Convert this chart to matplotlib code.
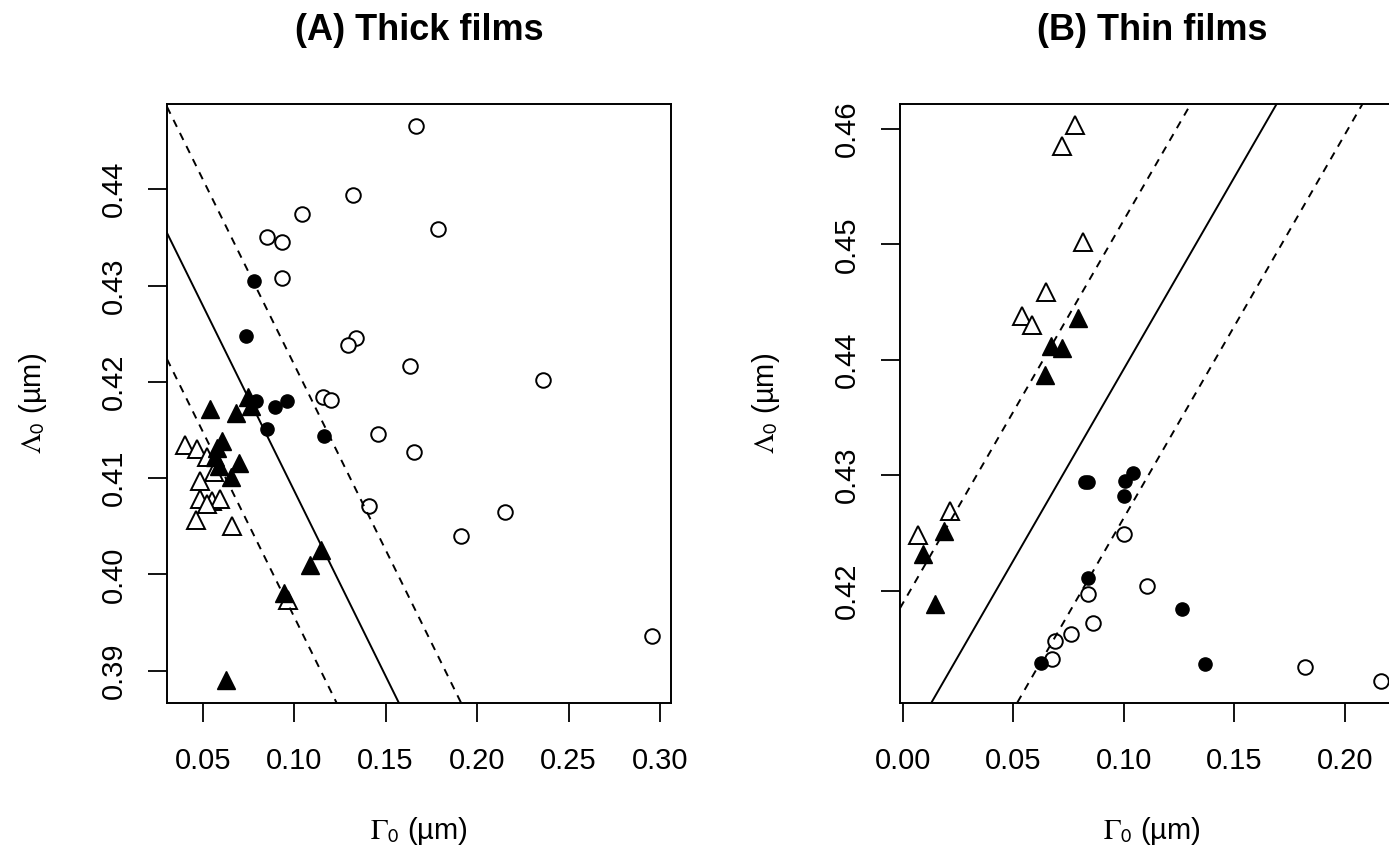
import numpy as np
import matplotlib.pyplot as plt

plt.rcParams['font.family'] = ['Liberation Sans', 'DejaVu Sans']
plt.rcParams['mathtext.fontset'] = 'stix'

# ---- (A) Thick films ----
a_open_circ_x = [0.1665, 0.1322, 0.1043, 0.1786, 0.0849, 0.0933, 0.0933, 0.1337, 0.1294, 0.1634,
                 0.2361, 0.1157, 0.1199, 0.1456, 0.1657, 0.1408, 0.2151, 0.1912, 0.2957]
a_open_circ_y = [0.4466, 0.4394, 0.4374, 0.4359, 0.4350, 0.4345, 0.4308, 0.4246, 0.4238, 0.4216,
                 0.4202, 0.4184, 0.4181, 0.4146, 0.4127, 0.4071, 0.4065, 0.4040, 0.3936]
a_fill_circ_x = [0.0783, 0.0737, 0.0794, 0.0897, 0.0959, 0.0849, 0.1163]
a_fill_circ_y = [0.4305, 0.4248, 0.4180, 0.4174, 0.4180, 0.4151, 0.4144]
a_fill_tri_x = [0.0539, 0.0680, 0.0750, 0.0763, 0.0607, 0.0579, 0.0570, 0.0589, 0.0699, 0.0653,
                0.1148, 0.1089, 0.0943, 0.0625]
a_fill_tri_y = [0.4172, 0.4168, 0.4184, 0.4175, 0.4139, 0.4131, 0.4122, 0.4113, 0.4116, 0.4101,
                0.4025, 0.4010, 0.3981, 0.3890]
a_open_tri_x = [0.0405, 0.0469, 0.0524, 0.0561, 0.0488, 0.0488, 0.0552, 0.0592, 0.0524, 0.0466,
                0.0658, 0.0965]
a_open_tri_y = [0.4134, 0.4130, 0.4122, 0.4106, 0.4097, 0.4078, 0.4076, 0.4078, 0.4073, 0.4056,
                0.4050, 0.3973]
a_slope, a_intercept, a_band = -0.385, 0.4472, 0.0131

# ---- (B) Thin films ----
b_open_tri_x = [0.0779, 0.0719, 0.0814, 0.0648, 0.0538, 0.0583, 0.0214, 0.0070]
b_open_tri_y = [0.4603, 0.4585, 0.4502, 0.4459, 0.4438, 0.4430, 0.4269, 0.4248]
b_fill_tri_x = [0.0791, 0.0671, 0.0722, 0.0643, 0.0186, 0.0093, 0.0146]
b_fill_tri_y = [0.4436, 0.4412, 0.4410, 0.4387, 0.4252, 0.4232, 0.4188]
b_fill_circ_x = [0.0826, 0.0840, 0.1005, 0.1040, 0.1002, 0.0837, 0.1262, 0.0624, 0.1366]
b_fill_circ_y = [0.4294, 0.4294, 0.4295, 0.4302, 0.4282, 0.4211, 0.4184, 0.4137, 0.4136]
b_open_circ_x = [0.1001, 0.1106, 0.0837, 0.0862, 0.0760, 0.0689, 0.0676, 0.1820, 0.2162]
b_open_circ_y = [0.4249, 0.4204, 0.4197, 0.4172, 0.4162, 0.4156, 0.4141, 0.4134, 0.4122]
b_slope, b_intercept, b_band = 0.332, 0.4060, 0.0129

W, H = 1389, 848
fig = plt.figure(figsize=(W / 100, H / 100), dpi=100)
top, bot, wid = 103.5, 702.5, 504
ax1 = fig.add_axes([167 / W, (H - bot) / H, wid / W, (bot - top) / H])
ax2 = fig.add_axes([900 / W, (H - bot) / H, wid / W, (bot - top) / H])

def points(ax, ox, oy, fx, fy, otx, oty, ftx, fty):
    ax.plot(ox, oy, 'o', ms=10.5, mfc='white', mec='black', mew=1.4, ls='none')
    ax.plot(fx, fy, 'o', ms=9.5, mfc='black', mec='black', ls='none')
    ax.plot(otx, oty, '^', ms=13, mfc='white', mec='black', mew=1.4, ls='none')
    ax.plot(ftx, fty, '^', ms=13, mfc='black', mec='black', ls='none')

def bands(ax, slope, icpt, band):
    ax.axline((0, icpt), slope=slope, color='black', lw=1.4)
    for d in (-band, band):
        ax.axline((0, icpt + d), slope=slope, color='black', lw=1.4, dashes=(4, 3.5))

points(ax1, a_open_circ_x, a_open_circ_y, a_fill_circ_x, a_fill_circ_y,
       a_open_tri_x, a_open_tri_y, a_fill_tri_x, a_fill_tri_y)
bands(ax1, a_slope, a_intercept, a_band)
points(ax2, b_open_circ_x, b_open_circ_y, b_fill_circ_x, b_fill_circ_y,
       b_open_tri_x, b_open_tri_y, b_fill_tri_x, b_fill_tri_y)
bands(ax2, b_slope, b_intercept, b_band)

ax1.set_xlim(0.0305, 0.3060)
ax1.set_ylim(0.3867, 0.4489)
ax1.set_xticks([0.05, 0.10, 0.15, 0.20, 0.25, 0.30])
ax1.set_yticks([0.39, 0.40, 0.41, 0.42, 0.43, 0.44])
ax2.set_xlim(-0.0013, 0.2268)
ax2.set_ylim(0.4103, 0.4622)
ax2.set_xticks([0.00, 0.05, 0.10, 0.15, 0.20])
ax2.set_yticks([0.42, 0.43, 0.44, 0.45, 0.46])

titles = ['(A) Thick films', '(B) Thin films']
for ax, title in zip((ax1, ax2), titles):
    ax.xaxis.set_major_formatter('{x:.2f}')
    ax.yaxis.set_major_formatter('{x:.2f}')
    ax.tick_params(direction='out', length=14, width=1.3, labelsize=21)
    ax.tick_params(axis='x', pad=18)
    ax.tick_params(axis='y', pad=14)
    for lab in ax.get_yticklabels():
        lab.set_rotation(90)
        lab.set_va('center')
    for sp in ax.spines.values():
        sp.set_linewidth(1.4)
    pos = ax.get_position()
    cx = pos.x0 + pos.width / 2
    fig.text(cx, 1 - 31 / H, title, fontsize=26, fontweight='bold', ha='center', va='center')
    fig.text(cx, 1 - 831 / H, r'$\Gamma_{\mathsf{0}}$ (µm)', fontsize=21, ha='center', va='center')
    fig.text(pos.x0 - 134 / W, pos.y0 + pos.height / 2, r'$\Lambda_{\mathsf{0}}$ (µm)',
             fontsize=21, rotation=90, ha='center', va='center')

fig.savefig('out.png', dpi=100)
